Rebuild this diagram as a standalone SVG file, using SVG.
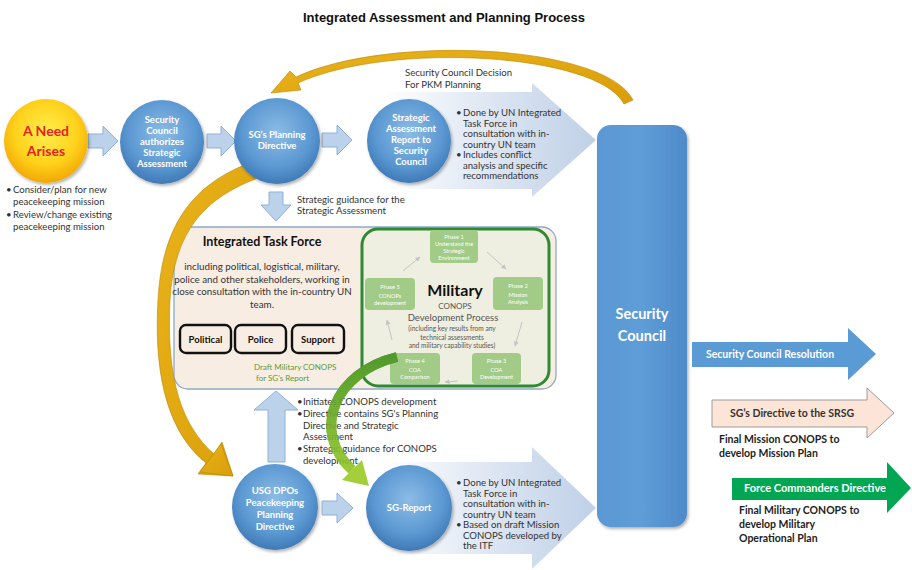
<svg xmlns="http://www.w3.org/2000/svg" width="912" height="570" viewBox="0 0 912 570">
<defs>
  <radialGradient id="gB" cx="50%" cy="40%" r="62%">
    <stop offset="0" stop-color="#8CBCE6"/>
    <stop offset="0.65" stop-color="#5B98D2"/>
    <stop offset="1" stop-color="#3C77B3"/>
  </radialGradient>
  <radialGradient id="gY" cx="50%" cy="40%" r="62%">
    <stop offset="0" stop-color="#FFEE50"/>
    <stop offset="0.6" stop-color="#FFD21C"/>
    <stop offset="1" stop-color="#F0A400"/>
  </radialGradient>
  <linearGradient id="gBig" x1="0" y1="0" x2="1" y2="0">
    <stop offset="0" stop-color="#FFFFFF"/>
    <stop offset="0.35" stop-color="#E6EDF6"/>
    <stop offset="1" stop-color="#BFD0E7"/>
  </linearGradient>
  <linearGradient id="gGold" x1="0" y1="0" x2="1" y2="1">
    <stop offset="0" stop-color="#E9B21A"/>
    <stop offset="1" stop-color="#D99E0A"/>
  </linearGradient>
  <linearGradient id="gGreen" gradientUnits="userSpaceOnUse" x1="0" y1="355" x2="0" y2="480">
    <stop offset="0" stop-color="#4F9A2C"/>
    <stop offset="1" stop-color="#A2CF3A"/>
  </linearGradient>
  <linearGradient id="gSC" x1="0" y1="0" x2="1" y2="0">
    <stop offset="0" stop-color="#5A98D4"/>
    <stop offset="0.5" stop-color="#5E9DD8"/>
    <stop offset="1" stop-color="#4E8BC8"/>
  </linearGradient>
  <filter id="sh" x="-20%" y="-20%" width="140%" height="140%">
    <feDropShadow dx="1.5" dy="2" stdDeviation="1.5" flood-color="#000" flood-opacity="0.3"/>
  </filter>
  <marker id="ga" viewBox="0 0 10 10" refX="9" refY="5" markerWidth="5" markerHeight="5" orient="auto">
    <path d="M0,0 L10,5 L0,10 z" fill="#C4C4C4"/>
  </marker>
</defs>
<style>
  text { font-family: Lato, "Liberation Sans", sans-serif; }
  .title { font-family: "Liberation Sans", Arial, sans-serif; font-weight: bold; font-size: 13px; fill: #111; text-anchor: middle; }
  .ct { font-weight: bold; fill: #FFFFFF; font-size: 9.5px; text-anchor: middle; }
  .need { font-weight: bold; fill: #E8231B; font-size: 14px; text-anchor: middle; }
  .bl { font-size: 9.6px; fill: #333; }
  .sa { fill: #BCD2EB; stroke: #8FB0D8; stroke-width: 1; }
  .big { fill: url(#gBig); }
  .itf { font-size: 9.8px; fill: #333; text-anchor: middle; }
  .bx { fill: #F7EDE3; stroke: #111; stroke-width: 2.4; }
  .bxt { font-weight: bold; font-size: 9.5px; fill: #111; text-anchor: middle; }
  .ph { fill: #A1CB86; }
  .pht { font-size: 5.6px; fill: #FFFFFF; text-anchor: middle; }
  .mil { fill: #555; text-anchor: middle; }
  .rt { font-weight: bold; font-size: 10.5px; fill: #222; }
  .gl { stroke: #C4C4C4; stroke-width: 1; fill: none; marker-end: url(#ga); }
  .gold { fill: url(#gGold); stroke: #B98700; stroke-width: 0.6; }
</style>
<rect x="0" y="0" width="912" height="570" fill="#FFFFFF"/>

<text class="title" x="444" y="22">Integrated Assessment and Planning Process</text>

<!-- big background arrows -->
<g id="big-arrow-top">
  <polygon class="big" points="385,92 532,92 532,83 596,140 532,197 532,189 385,189"/>
  <text class="bl" x="405" y="76">Security Council Decision</text>
  <text class="bl" x="405" y="88">For PKM Planning</text>
  <text class="bl" x="456" y="116">•</text>
  <text class="bl" x="463" y="116">Done by UN Integrated</text>
  <text class="bl" x="463" y="126.5">Task Force in</text>
  <text class="bl" x="463" y="137">consultation with in-</text>
  <text class="bl" x="463" y="147.5">country UN team</text>
  <text class="bl" x="456" y="158">•</text>
  <text class="bl" x="463" y="158">Includes conflict</text>
  <text class="bl" x="463" y="168.5">analysis and specific</text>
  <text class="bl" x="463" y="179">recommendations</text>
</g>
<g id="big-arrow-bottom">
  <polygon class="big" points="385,462 532,462 532,447 596,508 532,569 532,554 385,554"/>
  <text class="bl" x="456" y="486">•</text>
  <text class="bl" x="463" y="486">Done by UN Integrated</text>
  <text class="bl" x="463" y="496.5">Task Force in</text>
  <text class="bl" x="463" y="507">consultation with in-</text>
  <text class="bl" x="463" y="517.5">country UN team</text>
  <text class="bl" x="456" y="528">•</text>
  <text class="bl" x="463" y="528">Based on draft Mission</text>
  <text class="bl" x="463" y="538.5">CONOPS developed by</text>
  <text class="bl" x="463" y="549">the ITF</text>
</g>

<!-- Security Council -->
<g id="security-council">
  <rect x="597" y="125" width="90" height="402" rx="14" fill="url(#gSC)" filter="url(#sh)"/>
  <text x="642" y="319" font-weight="bold" font-size="14.5" fill="#FFFFFF" text-anchor="middle">Security</text>
  <text x="642" y="341" font-weight="bold" font-size="14.5" fill="#FFFFFF" text-anchor="middle">Council</text>
</g>

<!-- ITF box -->
<g id="itf">
  <rect x="174" y="227" width="382" height="162" rx="14" fill="#F7EDE3" stroke="#8EA9C8" stroke-width="1.3"/>
  <text x="262" y="246" font-weight="bold" font-size="12.5" fill="#111" text-anchor="middle">Integrated Task Force</text>
  <text class="itf" x="262" y="270">including political, logistical, military,</text>
  <text class="itf" x="262" y="282.5">police and other stakeholders, working in</text>
  <text class="itf" x="262" y="295">close consultation with the  in-country UN</text>
  <text class="itf" x="262" y="307.5">team.</text>
  <rect class="bx" x="180" y="325" width="51" height="28" rx="6"/>
  <text class="bxt" x="205.5" y="343">Political</text>
  <rect class="bx" x="235" y="325" width="51" height="28" rx="6"/>
  <text class="bxt" x="260.5" y="343">Police</text>
  <rect class="bx" x="292" y="325" width="52" height="28" rx="6"/>
  <text class="bxt" x="318" y="343">Support</text>
  <text x="254" y="370" font-size="8" fill="#5C9A3A">Draft Military CONOPS</text>
  <text x="256" y="381" font-size="8" fill="#5C9A3A">for SG's Report</text>
</g>

<!-- Military box -->
<g id="military">
  <rect x="362" y="229" width="187" height="157" rx="16" fill="#EEEFE1" stroke="#2F8A33" stroke-width="3"/>
  <g id="phase1"><rect class="ph" x="430" y="230" width="48" height="33" rx="4"/>
    <text class="pht" x="454" y="239">Phase 1</text><text class="pht" x="454" y="246">Understand the</text><text class="pht" x="454" y="253">Strategic</text><text class="pht" x="454" y="260">Environment</text></g>
  <g id="phase2"><rect class="ph" x="493" y="277" width="50" height="33" rx="4"/>
    <text class="pht" x="518" y="288">Phase 2</text><text class="pht" x="518" y="297">Mission</text><text class="pht" x="518" y="304">Analysis</text></g>
  <g id="phase3"><rect class="ph" x="472" y="353" width="49" height="31" rx="4"/>
    <text class="pht" x="496.5" y="363">Phase 3</text><text class="pht" x="496.5" y="372">COA</text><text class="pht" x="496.5" y="379">Development</text></g>
  <g id="phase4"><rect class="ph" x="390" y="353" width="50" height="31" rx="4"/>
    <text class="pht" x="415" y="363">Phase 4</text><text class="pht" x="415" y="372">COA</text><text class="pht" x="415" y="379">Comparison</text></g>
  <g id="phase5"><rect class="ph" x="365" y="278" width="50" height="32" rx="4"/>
    <text class="pht" x="390" y="289">Phase 5</text><text class="pht" x="390" y="298">CONOPs</text><text class="pht" x="390" y="305">development</text></g>
  <text x="455" y="296" font-weight="bold" font-size="16" fill="#111" text-anchor="middle">Military</text>
  <text class="mil" x="455" y="309" font-size="8">CONOPS</text>
  <text class="mil" x="453" y="321" font-size="9.5">Development Process</text>
  <text class="mil" x="452" y="331" font-size="6.6">(including key results from any</text>
  <text class="mil" x="452" y="339.5" font-size="6.6">technical assessments</text>
  <text class="mil" x="452" y="348" font-size="6.6">and military capability studies)</text>
</g>

<!-- connectors -->
<g id="connectors">
  <polygon class="sa" points="88,134 103,134 103,126 118,141 103,156 103,148 88,148"/>
  <polygon class="sa" points="207,134 221,134 221,126 236,141 221,156 221,148 207,148"/>
  <polygon class="sa" points="322,133 337,133 337,125 352,140 337,155 337,147 322,147"/>
  <polygon class="sa" points="269,192 283,192 283,205 291,205 276,221 261,205 269,205"/>
  <polygon class="sa" points="276,391 298,410 285,410 285,462 268,462 268,410 254,410"/>
  <polygon class="sa" points="322,501 337,501 337,493 353,508 337,523 337,515 322,515"/>
  <polygon fill="#5B9BD5" points="692,342 848,342 848,328 876,354 848,380 848,367 692,367"/>
  <polygon fill="#FCE4D6" stroke="#9C9C9C" stroke-width="1" points="712,400 867,400 867,388 894,413 867,438 867,427 712,427"/>
  <polygon fill="#00A651" points="732,478 887,478 887,462 911,488 887,513 887,500 732,500"/>
  <line class="gl" x1="403" y1="271" x2="420" y2="257"/>
  <line class="gl" x1="487" y1="252" x2="506" y2="269"/>
  <line class="gl" x1="522" y1="322" x2="515" y2="346"/>
  <line class="gl" x1="458" y1="381" x2="445" y2="382"/>
  <line class="gl" x1="392" y1="340" x2="387" y2="320"/>
  <!-- gold arcs -->
  <path class="gold" d="M 633,100 C 605,44 388,34 296,77 L 290,71 L 271,93 L 301,90 L 298,83 C 390,41 598,53 624,104 Z"/>
  <path class="gold" d="M 247,164 C 196,184 162,222 158,300 C 153,384 172,436 206,463 L 198,474 L 233,476 L 222,442 L 214,454 C 182,426 166,380 170,300 C 174,232 204,198 258,178 Z"/>
  <!-- green arc -->
  <path d="M 397,357 C 335,372 310,430 352,470" fill="none" stroke="url(#gGreen)" stroke-width="10"/>
  <text class="bl" x="297" y="203">Strategic guidance for the</text>
  <text class="bl" x="297" y="214">Strategic Assessment</text>
</g>

<!-- bullets left of SG report -->
<g id="usg-notes">
  <text class="bl" x="297" y="405">•</text><text class="bl" x="303" y="405">Initiates CONOPS development</text>
  <text class="bl" x="297" y="417">•</text><text class="bl" x="303" y="417">Directive contains SG's Planning</text>
  <text class="bl" x="303" y="428.5">Directive and Strategic</text>
  <text class="bl" x="303" y="440">Assessment</text>
  <text class="bl" x="297" y="452">•</text><text class="bl" x="303" y="452">Strategic guidance for CONOPS</text>
  <text class="bl" x="303" y="463.5">development</text>
</g>
<path d="M 397,357 C 335,372 310,430 352,470" fill="none" stroke="url(#gGreen)" stroke-width="10" opacity="0.85"/>

<!-- circle nodes -->
<g id="need">
  <circle cx="46" cy="141" r="42" fill="url(#gY)" filter="url(#sh)"/>
  <text class="need" x="46" y="136">A Need</text>
  <text class="need" x="46" y="156">Arises</text>
</g>
<g id="need-notes">
  <text class="bl" x="6" y="193">•</text><text class="bl" x="13" y="193">Consider/plan for new</text>
  <text class="bl" x="13" y="205">peacekeeping mission</text>
  <text class="bl" x="6" y="218">•</text><text class="bl" x="13" y="218">Review/change existing</text>
  <text class="bl" x="13" y="230">peacekeeping mission</text>
</g>
<g id="sc-authorizes">
  <circle cx="162" cy="142" r="42" fill="url(#gB)" filter="url(#sh)"/>
  <text class="ct" x="162" y="123">Security</text>
  <text class="ct" x="162" y="134">Council</text>
  <text class="ct" x="162" y="145">authorizes</text>
  <text class="ct" x="162" y="156">Strategic</text>
  <text class="ct" x="162" y="167">Assessment</text>
</g>
<g id="sg-planning">
  <circle cx="277" cy="141" r="43" fill="url(#gB)" filter="url(#sh)"/>
  <text class="ct" x="277" y="138">SG’s Planning</text>
  <text class="ct" x="277" y="149">Directive</text>
</g>
<g id="strategic-report">
  <circle cx="409" cy="141" r="42" fill="url(#gB)" filter="url(#sh)"/>
  <text class="ct" x="411" y="121">Strategic</text>
  <text class="ct" x="411" y="132">Assessment</text>
  <text class="ct" x="411" y="143">Report to</text>
  <text class="ct" x="411" y="154">Security</text>
  <text class="ct" x="411" y="165">Council</text>
</g>
<g id="usg-dpos">
  <circle cx="275" cy="507" r="43" fill="url(#gB)" filter="url(#sh)"/>
  <text class="ct" x="275" y="494">USG DPOs</text>
  <text class="ct" x="275" y="506">Peacekeeping</text>
  <text class="ct" x="275" y="518">Planning</text>
  <text class="ct" x="275" y="530">Directive</text>
</g>
<g id="sg-report">
  <circle cx="409" cy="508" r="43" fill="url(#gB)" filter="url(#sh)"/>
  <text class="ct" x="409" y="511">SG-Report</text>
</g>
<!-- arrowheads drawn over circle edges -->
<polygon fill="#A2CF3A" points="342,480 369,486 362,460"/>
<path class="gold" d="M 200,472 L 233,476 L 221,444 Z"/>

<!-- right-side outputs -->
<g id="resolution">
  <text x="770" y="358" font-weight="bold" font-size="10.5" fill="#FFFFFF" text-anchor="middle">Security Council  Resolution</text>
</g>
<g id="srsg">
  <text x="792" y="417" font-weight="bold" font-size="10.5" fill="#333" text-anchor="middle">SG’s Directive to the SRSG</text>
  <text class="rt" x="719" y="443">Final Mission CONOPS to</text>
  <text class="rt" x="719" y="457">develop Mission Plan</text>
</g>
<g id="force">
  <text x="815" y="492" font-weight="bold" font-size="11" fill="#FFFFFF" text-anchor="middle">Force Commanders Directive</text>
  <text class="rt" x="739" y="514">Final Military CONOPS to</text>
  <text class="rt" x="739" y="528">develop Military</text>
  <text class="rt" x="739" y="542">Operational Plan</text>
</g>
</svg>
